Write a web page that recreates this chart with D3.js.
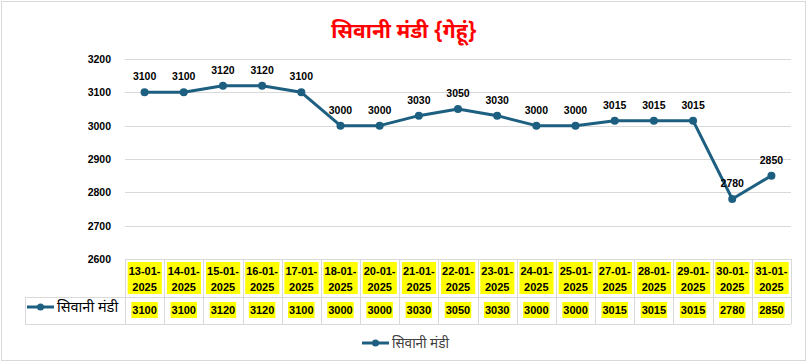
<!DOCTYPE html>
<html>
<head>
<meta charset="utf-8">
<script src="https://cdn.jsdelivr.net/npm/d3@7"></script>
<style>
	body { margin:0; background:#fff; }
	text { font-family: "Liberation Sans", Arial, sans-serif; }
	.hi { font-family: "Noto Sans Devanagari", "Noto Sans", "Liberation Sans", sans-serif; }
</style>
</head>
<body>
<div id="chart"></div>
<script>
// data
var dates = ['13-01-2025','14-01-2025','15-01-2025','16-01-2025','17-01-2025','18-01-2025','20-01-2025','21-01-2025',
	'22-01-2025','23-01-2025','24-01-2025','25-01-2025','27-01-2025','28-01-2025','29-01-2025','30-01-2025','31-01-2025'];
var prices = [3100,3100,3120,3120,3100,3000,3000,3030,3050,3030,3000,3000,3015,3015,3015,2780,2850];
var yTicks = [2600,2700,2800,2900,3000,3100,3200];
var seriesName = 'सिवानी मंडी';
var title = 'सिवानी मंडी {गेहूं}';

var W = 807, H = 362;
var lineColor = '#1c5f81';
var gridColor = '#d9d9d9';

var svg = d3.select('#chart').append('svg')
	.attr('width', W).attr('height', H);

// outer frame
svg.append('rect')
	.attr('x', 1.5).attr('y', 1.5)
	.attr('width', W - 3).attr('height', H - 3)
	.attr('fill', '#fff').attr('stroke', gridColor);

// title
svg.append('text').attr('class', 'hi')
	.attr('x', 404).attr('y', 38)
	.attr('text-anchor', 'middle')
	.attr('font-size', 21).attr('font-weight', 'bold')
	.attr('fill', '#ff0000')
	.text(title);

var x = d3.scaleBand().domain(dates).range([125, 791]);
var y = d3.scaleLinear().domain([2600, 3200]).range([259, 59]);

// gridlines
svg.append('g').selectAll('line')
	.data(yTicks)
	.enter().append('line')
	.attr('x1', 125).attr('x2', 791)
	.attr('y1', function(d){ return Math.round(y(d)) + 0.5; })
	.attr('y2', function(d){ return Math.round(y(d)) + 0.5; })
	.attr('stroke', gridColor);

// y axis labels
var yAxis = d3.axisLeft(y).tickValues(yTicks).tickFormat(d3.format('d'))
	.tickSize(0).tickPadding(0);
var yg = svg.append('g').attr('transform', 'translate(111,0)').call(yAxis);
yg.select('.domain').remove();
yg.selectAll('text')
	.attr('font-family', '"Liberation Sans", Arial, sans-serif')
	.attr('font-size', 10.5).attr('font-weight', 'bold')
	.attr('fill', '#000');

// line
var cx = function(d, i){ return x(dates[i]) + x.bandwidth() / 2; };
var line = d3.line()
	.x(function(d, i){ return cx(d, i); })
	.y(function(d){ return y(d); });
svg.append('path')
	.datum(prices)
	.attr('d', line)
	.attr('fill', 'none')
	.attr('stroke', lineColor)
	.attr('stroke-width', 3)
	.attr('stroke-linejoin', 'round');

svg.append('g').selectAll('circle')
	.data(prices)
	.enter().append('circle')
	.attr('cx', cx)
	.attr('cy', function(d){ return y(d); })
	.attr('r', 4)
	.attr('fill', lineColor);

// data labels
svg.append('g').selectAll('text')
	.data(prices)
	.enter().append('text')
	.attr('x', cx)
	.attr('y', function(d){ return y(d) - 12; })
	.attr('text-anchor', 'middle')
	.attr('font-size', 10.5).attr('font-weight', 'bold')
	.attr('fill', '#000')
	.text(function(d){ return d; });

// data table
var tbl = svg.append('g');
var tTop = 259, tMid = 297, tBot = 324, tLeft = 25;
var bounds = dates.map(function(d){ return x(d); }).concat([x.range()[1]]);
tbl.selectAll('line.v')
	.data(bounds)
	.enter().append('line')
	.attr('x1', function(d){ return Math.round(d) + 0.5; })
	.attr('x2', function(d){ return Math.round(d) + 0.5; })
	.attr('y1', tTop).attr('y2', tBot)
	.attr('stroke', gridColor);
tbl.append('line')
	.attr('x1', tLeft + 0.5).attr('x2', tLeft + 0.5)
	.attr('y1', tMid).attr('y2', tBot)
	.attr('stroke', gridColor);
[tMid, tBot].forEach(function(yy){
	tbl.append('line')
		.attr('x1', tLeft).attr('x2', 791)
		.attr('y1', yy + 0.5).attr('y2', yy + 0.5)
		.attr('stroke', gridColor);
});

// date cells with yellow highlight
dates.forEach(function(d, i){
	var g = tbl.append('g');
	var bg = g.append('rect').attr('fill', '#ffff00');
	var t = g.append('text')
		.attr('text-anchor', 'middle')
		.attr('font-size', 11).attr('font-weight', 'bold')
		.attr('fill', '#000');
	var parts = [d.slice(0, 6), d.slice(6)];
	parts.forEach(function(p, k){
		t.append('tspan')
			.attr('x', cx(d, i))
			.attr('y', 275 + k * 16)
			.text(p);
	});
	var b = t.node().getBBox();
	bg.attr('x', b.x - 1).attr('y', 262)
		.attr('width', b.width + 2).attr('height', 32);
});

// value cells
prices.forEach(function(v, i){
	var g = tbl.append('g');
	var bg = g.append('rect').attr('fill', '#ffff00');
	var t = g.append('text')
		.attr('x', cx(v, i)).attr('y', 314)
		.attr('text-anchor', 'middle')
		.attr('font-size', 11).attr('font-weight', 'bold')
		.attr('fill', '#000')
		.text(v);
	var b = t.node().getBBox();
	bg.attr('x', b.x - 1).attr('y', 302)
		.attr('width', b.width + 2).attr('height', 16);
});

// legend key helper
function legendKey(g, x0, yy){
	g.append('line')
		.attr('x1', x0).attr('x2', x0 + 27)
		.attr('y1', yy).attr('y2', yy)
		.attr('stroke', lineColor).attr('stroke-width', 3);
	g.append('circle')
		.attr('cx', x0 + 13.5).attr('cy', yy)
		.attr('r', 3.5).attr('fill', lineColor);
}

// row header
var rh = svg.append('g');
legendKey(rh, 27, 307);
rh.append('text').attr('class', 'hi')
	.attr('x', 57).attr('y', 312)
	.attr('font-size', 14.5)
	.attr('fill', '#000')
	.text(seriesName);

// bottom legend
var lg = svg.append('g');
legendKey(lg, 362, 343);
lg.append('text').attr('class', 'hi')
	.attr('x', 392).attr('y', 348)
	.attr('font-size', 13.5)
	.attr('fill', '#404040')
	.text(seriesName);
</script>
</body>
</html>
